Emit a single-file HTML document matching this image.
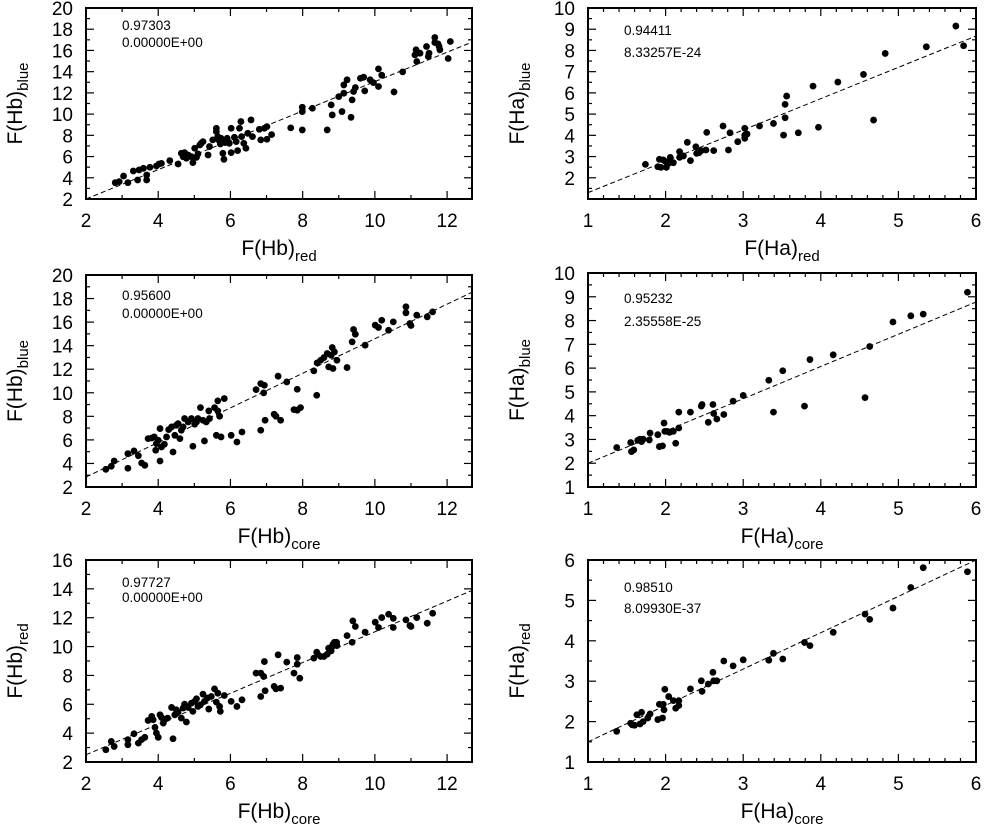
<!DOCTYPE html>
<html><head><meta charset="utf-8"><style>
html,body{margin:0;padding:0;background:#fff;}
svg{display:block;font-family:"Liberation Sans",Arial,sans-serif;}
</style></head><body>
<svg id="fig" width="986" height="827" viewBox="0 0 986 827" xmlns="http://www.w3.org/2000/svg"></svg>
<script>
// ---- Panel data ----
const p1x=[2.81,2.92,3.04,3.16,3.31,3.43,3.47,3.59,3.68,3.68,3.77,3.95,4.02,4.09,4.32,4.55,4.64,4.69,4.73,4.78,4.83,4.92,4.96,5.01,5.06,5.10,5.15,5.19,5.24,5.38,5.42,5.51,5.61,5.61,5.65,5.67,5.72,5.74,5.79,5.82,5.85,5.91,5.97,6.02,6.02,6.11,6.16,6.20,6.25,6.29,6.31,6.37,6.43,6.48,6.57,6.61,6.80,6.84,6.94,7.01,7.01,7.14,7.67,7.99,7.99,7.99,8.27,8.68,8.79,8.82,9.00,9.09,9.14,9.14,9.23,9.34,9.37,9.41,9.46,9.60,9.69,9.72,9.87,9.96,10.10,10.10,10.19,10.53,10.77,11.11,11.14,11.16,11.25,11.43,11.48,11.50,11.66,11.66,11.75,11.80,11.78,12.03,12.09];
const p1y=[3.54,3.64,4.17,3.54,4.64,3.79,4.74,4.89,4.26,3.79,4.99,5.11,5.30,5.36,5.62,5.30,6.31,5.99,6.37,5.84,6.15,5.99,5.43,6.78,5.93,6.25,7.09,7.25,7.41,6.15,6.94,7.57,8.67,8.35,7.88,7.57,7.19,7.72,6.31,5.74,7.31,7.72,7.25,8.67,6.37,7.82,7.41,6.56,8.67,9.30,7.88,7.25,6.78,8.19,9.45,7.88,8.57,7.57,8.67,8.82,7.63,8.07,8.70,10.65,10.24,8.51,10.55,8.51,10.87,9.92,11.65,10.24,11.97,12.75,13.23,9.70,11.34,12.13,12.50,13.38,13.48,12.19,13.23,12.97,14.26,12.60,13.67,12.09,13.98,15.58,16.06,14.96,15.74,16.37,15.43,15.74,17.22,16.75,16.62,16.06,16.37,15.24,16.84];
const p2x=[2.55,2.70,2.78,3.16,3.16,3.33,3.45,3.54,3.63,3.72,3.82,3.89,3.93,3.95,4.00,4.05,4.05,4.09,4.17,4.23,4.29,4.37,4.41,4.46,4.50,4.55,4.60,4.64,4.69,4.73,4.83,4.92,4.96,5.01,5.06,5.10,5.17,5.24,5.28,5.33,5.40,5.42,5.56,5.61,5.65,5.65,5.70,5.74,5.83,6.02,6.18,6.32,6.71,6.84,6.94,6.84,6.92,6.96,7.21,7.26,7.32,7.39,7.56,7.76,7.85,7.85,7.94,8.31,8.39,8.40,8.50,8.59,8.68,8.72,8.79,8.82,8.84,8.88,8.95,9.23,9.37,9.41,9.46,9.73,10.01,10.10,10.19,10.38,10.51,10.86,10.86,10.97,11.00,11.16,11.45,11.60];
const p2y=[3.50,3.76,4.21,4.83,3.59,5.06,4.66,4.04,3.84,6.11,6.16,6.25,5.12,5.68,5.97,6.96,4.21,5.40,5.63,6.25,6.87,7.10,4.97,6.39,7.24,7.38,6.11,6.82,7.10,7.81,7.52,7.81,5.46,7.33,7.52,7.81,8.74,7.67,5.91,7.52,8.46,7.81,8.74,6.39,9.31,8.46,8.01,6.25,9.51,6.39,5.82,6.67,10.27,10.78,10.64,6.82,9.99,7.67,8.18,8.01,11.41,7.67,10.92,8.57,10.30,8.52,8.74,11.86,9.79,12.54,12.76,12.99,13.33,12.20,13.19,13.84,12.06,13.47,12.76,12.14,14.32,15.37,14.97,14.04,15.74,15.54,16.16,15.31,16.02,17.30,16.79,15.88,15.71,16.59,16.45,16.87];
const p3x=[2.55,2.70,2.78,3.16,3.16,3.33,3.45,3.54,3.63,3.72,3.82,3.86,3.91,3.95,4.00,4.05,4.09,4.14,4.18,4.26,4.37,4.41,4.46,4.50,4.55,4.64,4.69,4.73,4.78,4.83,4.92,4.96,5.01,5.06,5.10,5.17,5.24,5.28,5.36,5.40,5.47,5.56,5.61,5.65,5.70,5.72,5.83,6.02,6.18,6.32,6.71,6.84,6.92,6.94,6.84,6.96,7.21,7.26,7.32,7.39,7.56,7.76,7.85,7.85,7.92,8.31,8.39,8.42,8.50,8.59,8.68,8.72,8.79,8.82,8.84,8.88,8.94,8.95,9.23,9.37,9.39,9.46,9.73,10.01,10.10,10.19,10.38,10.51,10.51,10.86,10.97,11.00,11.16,11.45,11.60];
const p3y=[2.85,3.43,3.08,3.20,3.55,3.96,3.31,3.55,3.71,4.88,5.16,4.93,4.40,4.01,3.71,5.27,5.09,4.70,4.93,5.04,5.78,3.61,5.27,5.62,5.46,5.04,5.74,6.01,4.77,5.78,6.08,5.51,6.20,6.38,5.85,5.97,6.70,6.20,6.43,5.67,6.54,7.07,6.15,6.77,5.85,5.51,6.61,6.20,5.85,6.31,8.16,8.16,7.93,8.96,6.54,6.94,7.24,7.07,9.43,7.12,8.92,8.16,9.24,8.78,7.81,9.20,9.61,9.47,9.31,9.31,9.47,9.89,9.70,10.00,10.16,10.30,10.30,10.07,10.76,10.30,11.78,11.39,11.00,11.69,11.32,12.01,12.24,11.96,11.32,11.85,11.46,11.39,12.01,11.62,12.31];
const p4x=[1.74,1.90,1.92,1.94,1.97,2.00,2.01,2.04,2.06,2.10,2.18,2.18,2.23,2.28,2.32,2.39,2.40,2.43,2.46,2.52,2.53,2.62,2.74,2.81,2.83,2.93,3.02,3.02,3.02,3.05,3.21,3.39,3.52,3.54,3.54,3.56,3.71,3.90,3.97,4.22,4.55,4.68,4.83,5.36,5.74,5.84];
const p4y=[2.63,2.52,2.87,2.49,2.84,2.76,2.49,2.68,2.96,2.71,3.23,2.96,3.03,3.67,2.81,3.46,3.15,3.18,3.28,3.31,4.14,3.28,4.44,3.31,4.12,3.70,4.33,4.01,3.86,4.06,4.44,4.56,4.01,5.46,4.83,5.85,4.12,6.32,4.38,6.51,6.87,4.72,7.86,8.17,9.15,8.22];
const p5x=[1.37,1.55,1.56,1.59,1.64,1.67,1.69,1.71,1.79,1.80,1.90,1.92,1.96,1.98,1.99,2.02,2.05,2.10,2.13,2.17,2.17,2.32,2.46,2.47,2.55,2.61,2.62,2.66,2.75,2.87,3.00,3.33,3.39,3.51,3.79,3.86,4.16,4.57,4.63,4.93,5.16,5.32,5.89];
const p5y=[2.66,2.87,2.49,2.56,2.96,3.01,2.91,3.01,2.98,3.27,3.20,2.70,2.73,3.69,3.34,3.34,3.30,3.34,2.84,3.48,4.15,4.15,4.40,4.47,3.72,4.47,4.09,3.86,4.05,4.61,4.85,5.49,4.15,5.89,4.40,6.36,6.56,4.76,6.91,7.94,8.20,8.27,9.19];
const p6x=[1.37,1.55,1.57,1.60,1.63,1.67,1.69,1.71,1.77,1.80,1.90,1.92,1.96,1.97,1.98,1.99,2.04,2.10,2.13,2.17,2.17,2.32,2.46,2.47,2.55,2.61,2.62,2.66,2.75,2.87,3.00,3.33,3.39,3.51,3.79,3.86,4.16,4.57,4.63,4.93,5.16,5.32,5.89];
const p6y=[1.76,1.96,1.92,1.91,2.17,1.94,2.23,2.00,2.09,2.19,2.05,2.43,2.09,2.43,2.29,2.80,2.62,2.52,2.33,2.40,2.52,2.81,3.01,2.75,2.93,3.22,3.01,3.01,3.50,3.38,3.53,3.52,3.69,3.55,3.96,3.88,4.21,4.66,4.53,4.81,5.32,5.81,5.71];
// fit line endpoints [x0,y0,x1,y1]
const fit1=[2,2.0,12.7,16.8], fit2=[2,2.85,12.7,18.55], fit3=[2,2.5,12.7,13.9];
const fit4=[1,1.3,6,8.68], fit5=[1,2.0,6,8.78], fit6=[1,1.5,6,6.0];
const stats1=["0.97303","0.00000E+00"], stats2=["0.95600","0.00000E+00"], stats3=["0.97727","0.00000E+00"];
const stats4=["0.94411","8.33257E-24"], stats5=["0.95232","2.35558E-25"], stats6=["0.98510","8.09930E-37"];

const NS="http://www.w3.org/2000/svg";
const svg=document.getElementById('fig');
function mk(tag,attrs,parent){const e=document.createElementNS(NS,tag);for(const k in attrs)e.setAttribute(k,attrs[k]);(parent||svg).appendChild(e);return e;}

function panel(o){
  const g=mk('g',{});
  
  
  const sx=v=>o.L+(v-o.xmin)/(o.xmax-o.xmin)*(o.R-o.L);
  const sy=v=>o.B-(v-o.ymin)/(o.ymax-o.ymin)*(o.B-o.T);
  // ticks
  const tg=mk('g',{stroke:'#000','stroke-width':1.2},g);
  
  
  for(let v=o.xmin;v<=o.xmax+1e-9;v+=o.xminor){
    const major=Math.abs(Math.round(v/o.xmajor)*o.xmajor-v)<1e-6; const len=major?8:4; const x=sx(v);
    mk('line',{x1:x,y1:o.B,x2:x,y2:o.B-len},tg); mk('line',{x1:x,y1:o.T,x2:x,y2:o.T+len},tg);
  }
  for(let v=o.ymin;v<=o.ymax+1e-9;v+=o.yminor){
    const major=Math.abs(Math.round(v/o.ymajor)*o.ymajor-v)<1e-6; const len=major?8:4; const y=sy(v);
    mk('line',{x1:o.L,y1:y,x2:o.L+len,y2:y},tg); mk('line',{x1:o.R,y1:y,x2:o.R-len,y2:y},tg);
  }
  // tick labels
  for(const v of o.xticks){const t=mk('text',{x:sx(v),y:o.B+28,'font-size':19,'text-anchor':'middle'},g);t.textContent=v;
    }
  for(const v of o.yticks){const t=mk('text',{x:o.L-13,y:sy(v)+7,'font-size':19,'text-anchor':'end'},g);t.textContent=v;
    }
  // fit line
  const f=o.fit;
  const ln=mk('line',{x1:sx(f[0]),y1:sy(f[1]),x2:sx(f[2]),y2:sy(f[3]),stroke:'#000','stroke-width':1,'stroke-dasharray':'5,3'},g);
  
  // points
  for(let i=0;i<o.xs.length;i++){
    const c=mk('circle',{cx:sx(o.xs[i]),cy:sy(o.ys[i]),r:3.4,fill:'#000'},g);
    
    
  }
  // border
  const bd=mk('rect',{x:o.L,y:o.T,width:o.R-o.L,height:o.B-o.T,fill:'none',stroke:'#000','stroke-width':2},g);
  
  // stats
  for(let i=0;i<2;i++){const t=mk('text',{x:o.L+36,y:o.T+o.sy0+i*o.sdy,'font-size':13.5},g);t.textContent=o.stats[i];
    }
  // axis labels
  const xl=mk('text',{x:(o.L+o.R)/2,y:o.B+56,'font-size':21,'text-anchor':'middle'},g);
  
  xl.innerHTML=o.xlab[0]+'<tspan dy="6" font-size="15">'+o.xlab[1]+'</tspan>';
  const cy=(o.T+o.B)/2;
  const yl=mk('text',{x:0,y:0,'font-size':21,'text-anchor':'middle',transform:'translate('+(o.L-64)+','+cy+') rotate(-90)'},g);
  
  yl.innerHTML=o.ylab[0]+'<tspan dy="6" font-size="15">'+o.ylab[1]+'</tspan>';
}
const Lx={L:86,R:472,xmin:2,xmax:12.69,xminor:1,xmajor:2,xticks:[2,4,6,8,10,12]};
const Rx={L:588,R:976,xmin:1,xmax:6,xminor:0.2,xmajor:1,xticks:[1,2,3,4,5,6]};
panel(Object.assign({},Lx,{name:'panel-hb-blue-vs-red',T:8,B:199,ymin:2,ymax:20,yminor:1,ymajor:2,yticks:[2,4,6,8,10,12,14,16,18,20],xs:p1x,ys:p1y,fit:fit1,stats:stats1,sy0:22,sdy:17,xlab:['F(Hb)','red'],ylab:['F(Hb)','blue']}));
panel(Object.assign({},Lx,{name:'panel-hb-blue-vs-core',T:275,B:487,ymin:2,ymax:20,yminor:1,ymajor:2,yticks:[2,4,6,8,10,12,14,16,18,20],xs:p2x,ys:p2y,fit:fit2,stats:stats2,sy0:25,sdy:18,xlab:['F(Hb)','core'],ylab:['F(Hb)','blue']}));
panel(Object.assign({},Lx,{name:'panel-hb-red-vs-core',T:560,B:762,ymin:2,ymax:16,yminor:1,ymajor:2,yticks:[2,4,6,8,10,12,14,16],xs:p3x,ys:p3y,fit:fit3,stats:stats3,sy0:27,sdy:15,xlab:['F(Hb)','core'],ylab:['F(Hb)','red']}));
panel(Object.assign({},Rx,{name:'panel-ha-blue-vs-red',T:8,B:199,ymin:1,ymax:10,yminor:0.5,ymajor:1,yticks:[2,3,4,5,6,7,8,9,10],xs:p4x,ys:p4y,fit:fit4,stats:stats4,sy0:27,sdy:22,xlab:['F(Ha)','red'],ylab:['F(Ha)','blue']}));
panel(Object.assign({},Rx,{name:'panel-ha-blue-vs-core',T:273,B:487,ymin:1,ymax:10,yminor:0.5,ymajor:1,yticks:[1,2,3,4,5,6,7,8,9,10],xs:p5x,ys:p5y,fit:fit5,stats:stats5,sy0:30,sdy:23,xlab:['F(Ha)','core'],ylab:['F(Ha)','blue']}));
panel(Object.assign({},Rx,{name:'panel-ha-red-vs-core',T:560,B:762,ymin:1,ymax:6,yminor:0.5,ymajor:1,yticks:[1,2,3,4,5,6],xs:p6x,ys:p6y,fit:fit6,stats:stats6,sy0:32,sdy:21,xlab:['F(Ha)','core'],ylab:['F(Ha)','red']}));
</script>
</body></html>
